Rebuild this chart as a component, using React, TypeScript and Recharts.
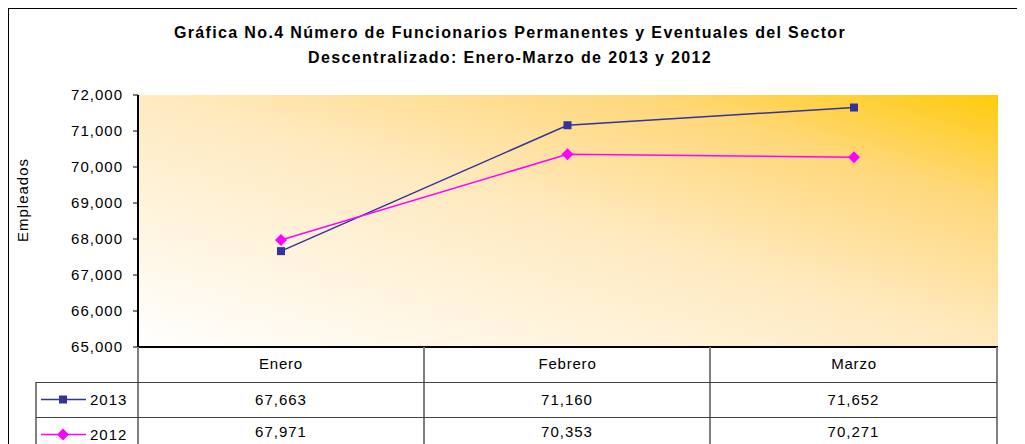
import React from 'react';
import { LineChart, Line, XAxis, YAxis, CartesianGrid } from 'recharts';

// Datos
const meses = ['Enero', 'Febrero', 'Marzo'];
const valores2013 = [67663, 71160, 71652];
const valores2012 = [67971, 70353, 70271];
const ticksY = [65000, 66000, 67000, 68000, 69000, 70000, 71000, 72000];

const series = [
  { key: 's2013', name: '2013', color: '#333399', shape: 'square', values: valores2013 },
  { key: 's2012', name: '2012', color: '#FF00FF', shape: 'diamond', values: valores2012 },
];

const data = meses.map((m, i) => ({
  mes: m,
  s2013: valores2013[i],
  s2012: valores2012[i],
}));

const FONT = '"Liberation Sans", Arial, sans-serif';
const fmt = (v: number) => v.toLocaleString('en-US');

function marker(shape: string, color: string, cx: number, cy: number, key?: string) {
  if (shape === 'square') {
    return <rect key={key} x={cx - 4} y={cy - 4} width={8} height={8} fill={color} />;
  }
  return (
    <polygon
      key={key}
      points={`${cx},${cy - 6} ${cx + 6},${cy} ${cx},${cy + 6} ${cx - 6},${cy}`}
      fill={color}
    />
  );
}

// posiciones de columnas de la tabla (coordenadas del contenedor)
const colEdges = [130, 416, 702, 989];
const gray = '#808080';

export default function App() {
  return (
    <div
      style={{
        position: 'relative',
        width: 1017,
        height: 436,
        overflow: 'hidden',
        fontFamily: FONT,
        color: '#000',
        background: '#fff',
      }}
    >
      <div
        style={{
          position: 'absolute',
          left: 0,
          top: 0,
          width: 1100,
          height: 500,
          border: '1px solid #000',
          boxSizing: 'border-box',
        }}
      />
      <div
        style={{
          position: 'absolute',
          left: 0,
          top: 12,
          width: 1004,
          textAlign: 'center',
          fontWeight: 'bold',
          fontSize: 16,
          lineHeight: '25px',
          letterSpacing: 1.35,
        }}
      >
        Gráfica No.4 Número de Funcionarios Permanentes y Eventuales del Sector
        <br />
        Descentralizado: Enero-Marzo de 2013 y 2012
      </div>
      <div
        style={{
          position: 'absolute',
          left: 14,
          top: 192,
          transform: 'translate(-50%, -50%) rotate(-90deg)',
          fontSize: 15,
          letterSpacing: 1,
          whiteSpace: 'nowrap',
        }}
      >
        Empleados
      </div>

      <div style={{ position: 'absolute', left: 0, top: 0 }}>
        <LineChart
          width={1017}
          height={436}
          data={data}
          margin={{ top: 87, right: 27, bottom: 61, left: 10 }}
        >
          <defs>
            <linearGradient id="bg" x1="0" y1="1" x2="1" y2="0">
              <stop offset="0%" stopColor="#FFFFFF" />
              <stop offset="50%" stopColor="#FFEAC0" />
              <stop offset="78%" stopColor="#FFD87C" />
              <stop offset="100%" stopColor="#FFCB0C" />
            </linearGradient>
          </defs>
          <CartesianGrid horizontal={false} vertical={false} fill="url(#bg)" fillOpacity={1} />
          <XAxis
            dataKey="mes"
            height={36}
            padding={{ left: 143, right: 144 }}
            tickLine={false}
            tickSize={0}
            tickMargin={11}
            axisLine={{ stroke: '#000', strokeWidth: 2 }}
            tick={{ fontSize: 15, fill: '#000', fontFamily: FONT, letterSpacing: 0.8 }}
          />
          <XAxis
            xAxisId="top"
            orientation="top"
            dataKey="mes"
            height={0}
            tick={false}
            tickLine={false}
            axisLine={{ stroke: '#000', strokeWidth: 1.5 }}
          />
          <YAxis
            width={120}
            domain={[65000, 72000]}
            ticks={ticksY}
            tickFormatter={fmt}
            tickSize={5}
            tickMargin={10}
            interval={0}
            axisLine={{ stroke: '#000', strokeWidth: 2 }}
            tickLine={{ stroke: '#000' }}
            tick={{ fontSize: 15, fill: '#000', fontFamily: FONT, letterSpacing: 1 }}
          />
          <YAxis
            yAxisId="right"
            orientation="right"
            width={0}
            tick={false}
            tickLine={false}
            axisLine={{ stroke: '#000', strokeWidth: 2 }}
          />
          {series.map((s) => (
            <Line
              key={s.key}
              dataKey={s.key}
              name={s.name}
              type="linear"
              stroke={s.color}
              strokeWidth={1.5}
              isAnimationActive={false}
              dot={(p: any) => marker(s.shape, s.color, p.cx, p.cy, `${s.key}-${p.index}`)}
              activeDot={false}
            />
          ))}
        </LineChart>
      </div>

      {/* tabla de datos */}
      {colEdges.map((x, i) => (
        <div
          key={`v${i}`}
          style={{
            position: 'absolute',
            left: x - 1,
            top: 339,
            width: 2,
            height: 120,
            background: gray,
          }}
        />
      ))}
      <div style={{ position: 'absolute', left: 27, top: 374, width: 2, height: 100, background: gray }} />
      {series.map((s, r) => (
        <React.Fragment key={s.key}>
          <div
            style={{
              position: 'absolute',
              left: 28,
              top: 374 + r * 35,
              width: colEdges[3] - 28,
              height: 1,
              background: '#444',
            }}
          />
          <div style={{ position: 'absolute', left: 33, top: 374 + r * 35, height: 35 }}>
            <svg width={46} height={35} style={{ position: 'absolute', left: 0, top: 0 }}>
              <line x1={0} y1={17.5} x2={45} y2={17.5} stroke={s.color} strokeWidth={1.5} />
              {marker(s.shape, s.color, 22, 17.5)}
            </svg>
            <div
              style={{
                position: 'absolute',
                left: 49,
                top: 0,
                lineHeight: '35px',
                fontSize: 15,
                letterSpacing: 1,
              }}
            >
              {s.name}
            </div>
          </div>
          {s.values.map((v, i) => (
            <div
              key={i}
              style={{
                position: 'absolute',
                left: colEdges[i],
                top: 374 + r * 35 - (r === 1 ? 3 : 0),
                width: colEdges[i + 1] - colEdges[i],
                lineHeight: '35px',
                textAlign: 'center',
                fontSize: 15,
                letterSpacing: 1,
              }}
            >
              {fmt(v)}
            </div>
          ))}
        </React.Fragment>
      ))}
    </div>
  );
}
